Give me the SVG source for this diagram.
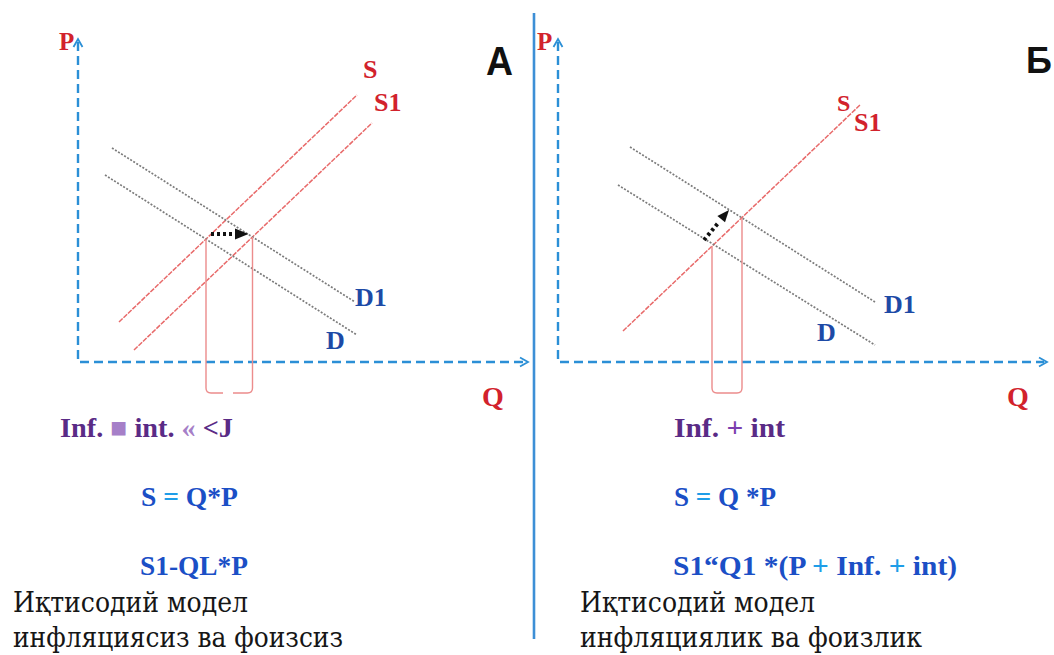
<svg xmlns="http://www.w3.org/2000/svg" width="1054" height="655" viewBox="0 0 1054 655">
<style>
.axis{fill:none;stroke:#2b8fd6;stroke-width:2.4;stroke-dasharray:9,5}
.chev{fill:none;stroke:#2b8fd6;stroke-width:1.8}
.sup{fill:none;stroke:#e86a6a;stroke-width:1.5;stroke-dasharray:5,1.2}
.dem{fill:none;stroke:#7c7c7c;stroke-width:1.7;stroke-dasharray:2,1.6}
.vert{fill:none;stroke:#ec8c8c;stroke-width:1.4}
.dots{fill:none;stroke:#111;stroke-width:4;stroke-dasharray:3,3}
.lr{font-family:"Liberation Serif","Times New Roman",serif;font-weight:bold;fill:#d2222c}
.lb{font-family:"Liberation Serif","Times New Roman",serif;font-weight:bold;fill:#1d4aa6}
.big{font-family:"Liberation Sans",Arial,sans-serif;font-weight:bold;fill:#111;font-size:40px}
.f{font-family:"Liberation Serif","Times New Roman",serif;font-weight:bold;font-size:28px}
.pu{fill:#5a2b86}
.pl{fill:#a67fc8}
.bl{fill:#1b4fc6}
.bll{fill:#1e9de8}
.cy{font-family:"DejaVu Serif","Liberation Serif",serif;font-stretch:condensed;font-size:27px;fill:#161616}
</style>

<line id="divider" x1="534" y1="13" x2="534" y2="639" stroke="#3d8fd6" stroke-width="2.6"/>

<g id="panel-a">
  <g id="a-axes">
    <path class="axis" d="M78,42 V362 H525"/>
    <polyline class="chev" points="73.5,47 78,39 82.5,47"/>
    <polyline class="chev" points="520,357.5 528,362 520,366.5"/>
    <text class="lr" x="59" y="50" font-size="25">P</text>
    <text class="lr" x="482" y="406" font-size="28">Q</text>
  </g>
  <text id="a-title" class="big" x="486" y="75" textLength="27" lengthAdjust="spacingAndGlyphs">A</text>
  <g id="a-supply">
    <line class="sup" x1="119" y1="322" x2="357" y2="95"/>
    <line class="sup" x1="134" y1="350" x2="372" y2="123"/>
    <text class="lr" x="363" y="78" font-size="26">S</text>
    <text class="lr" x="374" y="111" font-size="26">S1</text>
  </g>
  <g id="a-demand">
    <line class="dem" x1="112" y1="148" x2="355" y2="302"/>
    <line class="dem" x1="105" y1="175" x2="357" y2="335"/>
    <text class="lb" x="355" y="306" font-size="26">D1</text>
    <text class="lb" x="326" y="349" font-size="26">D</text>
  </g>
  <g id="a-quantity">
    <path class="vert" d="M206,239 V388 Q206,393 211,393 H223 M233,393 H247.5 Q252.5,393 252.5,388 V237"/>
  </g>
  <g id="a-shift">
    <line class="dots" x1="211" y1="234" x2="234" y2="234"/>
    <polygon points="235,228.5 248.5,234 235,239.5" fill="#111"/>
  </g>
  <g id="a-formulas">
    <text class="f pu" x="60" y="437" textLength="173" lengthAdjust="spacingAndGlyphs">Inf. <tspan class="pl">■</tspan> int. <tspan class="pl">«</tspan> &lt;J</text>
    <text class="f bl" x="141" y="506" textLength="97" lengthAdjust="spacingAndGlyphs">S <tspan class="bll">=</tspan> Q*P</text>
    <text class="f bl" x="140" y="575" textLength="108" lengthAdjust="spacingAndGlyphs">S1-QL*P</text>
    <text class="cy" x="13" y="612" textLength="235" lengthAdjust="spacingAndGlyphs">Иқтисодий модел</text>
    <text class="cy" x="13" y="647" textLength="330" lengthAdjust="spacingAndGlyphs">инфляциясиз ва фоизсиз</text>
  </g>
</g>

<g id="panel-b">
  <g id="b-axes">
    <path class="axis" d="M558,42 V362 H1044"/>
    <polyline class="chev" points="553.5,47 558,39 562.5,47"/>
    <polyline class="chev" points="1039,357.5 1047,362 1039,366.5"/>
    <text class="lr" x="537" y="50" font-size="25">P</text>
    <text class="lr" x="1007" y="406" font-size="28">Q</text>
  </g>
  <text id="b-title" class="big" x="1026" y="73" font-size="36" style="font-size:36px">Б</text>
  <g id="b-supply">
    <line class="sup" x1="623" y1="331" x2="860" y2="105"/>
    <text class="lr" x="837" y="111" font-size="24">S</text>
    <text class="lr" x="854" y="131" font-size="26">S1</text>
  </g>
  <g id="b-demand">
    <line class="dem" x1="630" y1="147" x2="875" y2="302"/>
    <line class="dem" x1="618" y1="185" x2="875" y2="345"/>
    <text class="lb" x="884" y="313" font-size="26">D1</text>
    <text class="lb" x="817" y="341" font-size="26">D</text>
  </g>
  <g id="b-quantity">
    <path class="vert" d="M712,246 V388 Q712,393 717,393 H737 Q742,393 742,388 V218"/>
  </g>
  <g id="b-shift">
    <line class="dots" x1="704" y1="240" x2="719" y2="222"/>
    <polygon points="729,210 725,222.3 717.4,215.9" fill="#111"/>
  </g>
  <g id="b-formulas">
    <text class="f pu" x="674" y="437" textLength="111" lengthAdjust="spacingAndGlyphs">Inf. <tspan fill="#7b3fae">+</tspan> int</text>
    <text class="f bl" x="674" y="506" textLength="102" lengthAdjust="spacingAndGlyphs">S <tspan class="bll">=</tspan> Q *P</text>
    <text class="f bl" x="673" y="575" textLength="284" lengthAdjust="spacingAndGlyphs">S1“Q1 *(P <tspan class="bll">+</tspan> Inf. <tspan class="bll">+</tspan> int)</text>
    <text class="cy" x="580" y="612" textLength="235" lengthAdjust="spacingAndGlyphs">Иқтисодий модел</text>
    <text class="cy" x="580" y="647" textLength="342" lengthAdjust="spacingAndGlyphs">инфляциялик ва фоизлик</text>
  </g>
</g>
</svg>
